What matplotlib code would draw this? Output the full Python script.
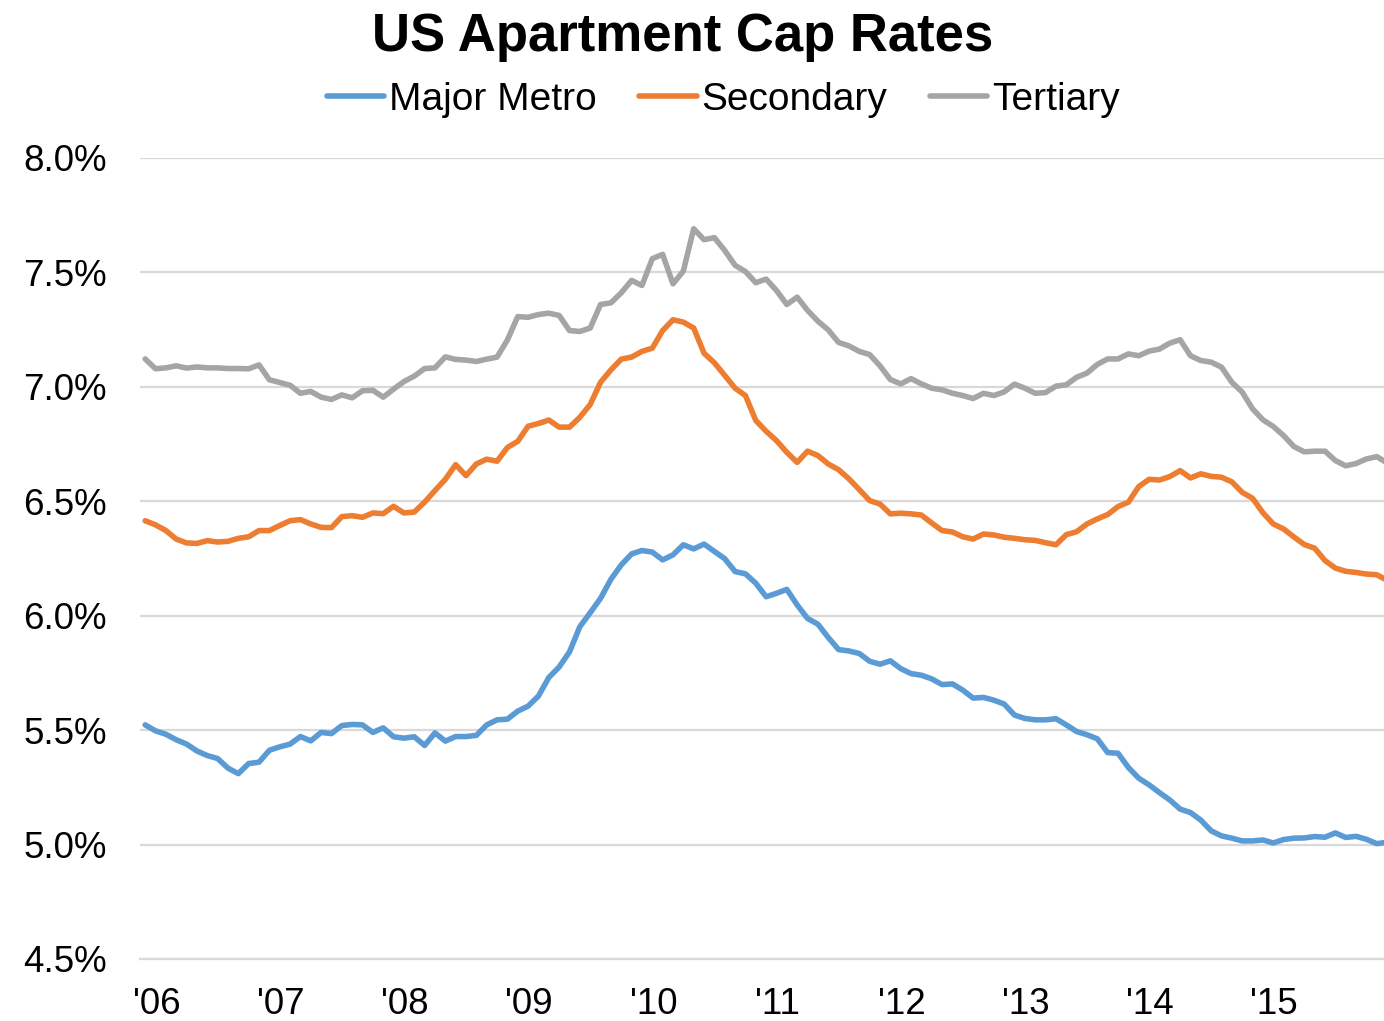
import matplotlib
matplotlib.use("Agg")
import matplotlib.pyplot as plt
import numpy as np

plt.rcParams['font.family'] = ['Liberation Sans', 'DejaVu Sans']

# Monthly series, Jan 2006 onward (last point lies just past the visible edge)
major_metro = [
    5.523, 5.497, 5.482, 5.458, 5.439, 5.409, 5.389, 5.376, 5.334, 5.310, 5.354, 5.360,
    5.412, 5.427, 5.439, 5.472, 5.453, 5.490, 5.485, 5.520, 5.525, 5.523, 5.490, 5.510,
    5.471, 5.465, 5.471, 5.433, 5.488, 5.452, 5.472, 5.472, 5.477, 5.523, 5.545, 5.548,
    5.583, 5.605, 5.649, 5.730, 5.776, 5.842, 5.952, 6.013, 6.076, 6.159, 6.222, 6.270,
    6.285, 6.278, 6.244, 6.266, 6.310, 6.292, 6.313, 6.281, 6.249, 6.193, 6.183, 6.142,
    6.083, 6.098, 6.115, 6.047, 5.988, 5.963, 5.905, 5.852, 5.846, 5.835, 5.801, 5.788,
    5.803, 5.769, 5.747, 5.740, 5.724, 5.699, 5.702, 5.675, 5.640, 5.643, 5.631, 5.614,
    5.566, 5.551, 5.545, 5.545, 5.550, 5.523, 5.494, 5.480, 5.462, 5.402, 5.399, 5.337,
    5.290, 5.261, 5.227, 5.195, 5.155, 5.140, 5.107, 5.060, 5.038, 5.028, 5.016, 5.016,
    5.020, 5.007, 5.022, 5.028, 5.029, 5.035, 5.032, 5.051, 5.031, 5.036, 5.023, 5.004,
    5.010,
]
secondary = [
    6.415, 6.397, 6.372, 6.335, 6.318, 6.316, 6.328, 6.322, 6.325, 6.338, 6.345, 6.372,
    6.372, 6.394, 6.415, 6.420, 6.401, 6.386, 6.385, 6.433, 6.437, 6.430, 6.449, 6.446,
    6.478, 6.449, 6.453, 6.496, 6.547, 6.596, 6.660, 6.612, 6.663, 6.684, 6.675, 6.735,
    6.762, 6.828, 6.840, 6.855, 6.824, 6.824, 6.867, 6.923, 7.020, 7.074, 7.121, 7.130,
    7.155, 7.169, 7.246, 7.293, 7.283, 7.257, 7.147, 7.105, 7.050, 6.994, 6.962, 6.853,
    6.806, 6.765, 6.714, 6.670, 6.719, 6.700, 6.663, 6.638, 6.598, 6.551, 6.503, 6.488,
    6.445, 6.448, 6.445, 6.440, 6.405, 6.372, 6.366, 6.345, 6.335, 6.357, 6.353, 6.343,
    6.338, 6.332, 6.329, 6.319, 6.310, 6.354, 6.367, 6.401, 6.423, 6.442, 6.477, 6.496,
    6.564, 6.596, 6.593, 6.608, 6.634, 6.602, 6.620, 6.609, 6.605, 6.585, 6.539, 6.513,
    6.450, 6.401, 6.379, 6.344, 6.311, 6.295, 6.241, 6.208, 6.194, 6.189, 6.182, 6.179,
    6.155,
]
tertiary = [
    7.122, 7.079, 7.083, 7.092, 7.082, 7.087, 7.083, 7.083, 7.080, 7.080, 7.079, 7.096,
    7.031, 7.019, 7.007, 6.972, 6.980, 6.955, 6.945, 6.965, 6.952, 6.983, 6.985, 6.955,
    6.990, 7.023, 7.047, 7.080, 7.083, 7.131, 7.120, 7.117, 7.111, 7.121, 7.130, 7.205,
    7.307, 7.304, 7.316, 7.322, 7.312, 7.246, 7.242, 7.257, 7.360, 7.367, 7.411, 7.465,
    7.443, 7.560, 7.579, 7.450, 7.506, 7.691, 7.643, 7.652, 7.596, 7.531, 7.504, 7.455,
    7.471, 7.421, 7.360, 7.392, 7.334, 7.287, 7.249, 7.194, 7.179, 7.155, 7.141, 7.092,
    7.032, 7.013, 7.036, 7.013, 6.994, 6.987, 6.972, 6.962, 6.949, 6.972, 6.962, 6.978,
    7.012, 6.994, 6.972, 6.975, 7.003, 7.009, 7.042, 7.060, 7.098, 7.122, 7.122, 7.144,
    7.136, 7.156, 7.165, 7.191, 7.206, 7.136, 7.115, 7.108, 7.086, 7.020, 6.977, 6.904,
    6.856, 6.827, 6.787, 6.739, 6.716, 6.719, 6.719, 6.678, 6.655, 6.665, 6.685, 6.695,
    6.668,
]
year_labels = ["'06", "'07", "'08", "'09", "'10", "'11", "'12", "'13", "'14", "'15"]
y_ticks = [4.5, 5.0, 5.5, 6.0, 6.5, 7.0, 7.5, 8.0]
series_names = ["Major Metro", "Secondary", "Tertiary"]
colors = ["#5B9BD5", "#ED7D31", "#A5A5A5"]

W, H = 1384, 1021
fig = plt.figure(figsize=(W / 100, H / 100), dpi=100)
ax = fig.add_axes([140 / W, 1 - 959 / H, (W - 140) / W, (959 - 158) / H])

months = np.arange(len(major_metro))
for vals, name, c in zip([major_metro, secondary, tertiary], series_names, colors):
    ax.plot(months, vals, color=c, lw=4.0, label=name, solid_joinstyle='round',
            solid_capstyle='round')

ax.set_xlim(-0.5, 119.7)
ax.set_ylim(4.5, 8.0)
ax.set_yticks(y_ticks)
ax.set_yticklabels([f"{v:.1f}%" for v in y_ticks])
ax.set_xticks(np.arange(len(year_labels)) * 12 + 1.1)
ax.set_xticklabels(year_labels)
ax.tick_params(axis='both', length=0, labelsize=26.5, colors='black')
ax.tick_params(axis='y', pad=24)
ax.tick_params(axis='x', pad=20)
ax.grid(axis='y', color='#D9D9D9', lw=1.6)
ax.set_axisbelow(True)
for s in ['top', 'right', 'left']:
    ax.spines[s].set_visible(False)
ax.spines['bottom'].set_color('#D9D9D9')
ax.spines['bottom'].set_linewidth(1.6)

fig.text(682.5 / W, 1 - 51 / H, "US Apartment Cap Rates", ha='center', va='baseline',
         fontsize=38, fontweight='bold')

fig.legend(loc='center', bbox_to_anchor=(723.5 / W, 1 - 100 / H), ncol=3, frameon=False,
           fontsize=28, handlelength=1.47, handletextpad=0.13, columnspacing=1.1,
           borderpad=0, borderaxespad=0)

fig.savefig("out.png", dpi=100)
